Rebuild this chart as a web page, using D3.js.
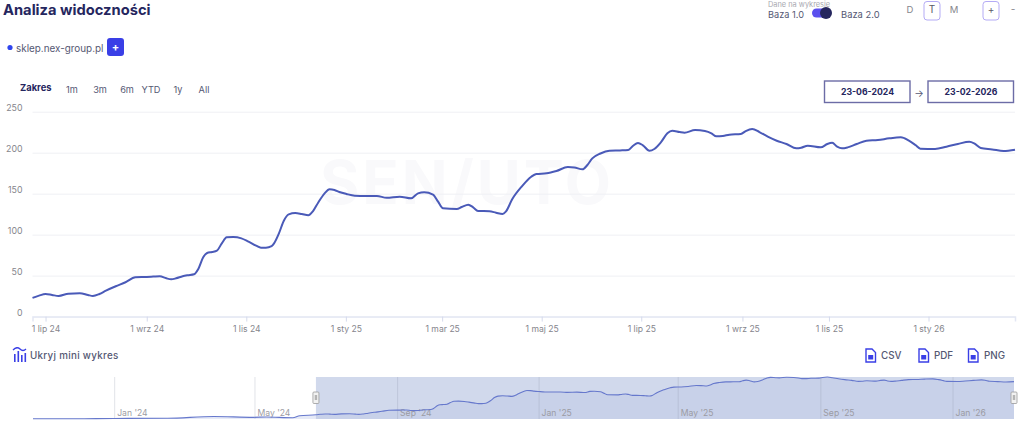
<!DOCTYPE html>
<html><head><meta charset="utf-8">
<script src="https://cdn.jsdelivr.net/npm/d3@7/dist/d3.min.js"></script>
<style>html,body{margin:0;padding:0;background:#fff}svg{display:block}text{font-family:Inter,"Open Sans",sans-serif}</style>
</head><body><svg id="c" width="1024" height="427"></svg>
<script>
// days = position on the chart's ordinal axis, counted from 23-06-2024
const days=[0,4,8,12,16,22,29,34,37,41,45,51,57,63,70,74,78,82,85,88,92,95,99,101.5,104.6,107,110,113,116,119,123,128,132,137,140,143,146.5,148,151,154,157,161,165,169,172,175,179,182,185,188,192.4,197.5,204,211,217,225,232,236.2,240,245.4,248.5,251.5,260,263,267,270,273,280,284,288,290,294,300,305.6,308.7,315,321,328,332,337,340,343,348,353.5,360,365,368,371,374,378,381,385,389,392,396.5,399.5,406,412,416,419,423,427,434,437,441,445.4,450.5,456,462,468,471,475,483,487,490,493,496,499.5,505,511,518,525,532,537,541,544,553,560,567,574,577,581,588,595,602];
const values=[22.8,25.6,27.6,26.4,25.2,28,28.5,26.4,25.2,27.6,31.7,37,41.9,48,48.4,48.8,49.2,46.7,45.5,46.7,49.2,50.4,51.6,57.7,72.4,77.6,78.9,80.5,89.4,96.7,97.2,95.5,91.9,86.6,84.1,84.1,86,89.4,101.6,117,124.8,126.4,125.2,123.6,129,139,150.4,155.3,154.5,152,149.6,147.6,147.2,147.2,145,146.3,144.3,150.4,151.6,148.8,140.2,132.1,131.3,133.7,136.6,133.3,128.9,128.5,126.8,125.2,128,143.5,159.3,170.7,174,174.8,177.6,182.5,182,179.7,185,193,199,202.4,202.8,203.3,208.5,211.8,209,202.4,204.5,212.6,223.6,226.8,225.2,224.4,227.6,226.4,223.6,220,220.4,222,222.8,226.4,228.9,225.2,219.5,214.6,210.6,205.3,206,208.5,206.5,210.6,212,207.3,205.3,206.5,210.6,214.6,215.4,217.5,218.7,214.6,209.3,204.9,204.5,207.3,210.6,213.4,211.4,205.7,204,202,203.6];
// history shown only in the mini chart
const earlyDays=[-244,-200,-174,-128,-88,-54,-43,-20,-14];
const earlyValues=[1,1.5,3,4,14,9,11,7,18];
const yTicks=[0,50,100,150,200,250];
const xTickDays=[8,70,131,192,251,312,373,435,488,549];
const xTickLabels=["1 lip 24","1 wrz 24","1 lis 24","1 sty 25","1 mar 25","1 maj 25","1 lip 25","1 wrz 25","1 lis 25","1 sty 26"];
const navTickDays=[-174,-53,70,192,312,435,549];
const navTickLabels=["Jan '24","May '24","Sep '24","Jan '25","May '25","Sep '25","Jan '26"];
const rangeLabels=["1m","3m","6m","YTD","1y","All"];
const rangeCenters=[72,100,127,151,178,204];

const navy="#25265e",ink="#555873",grey="#85858c",blue="#3a3fe6",lavender="#b4abf5";
const svg=d3.select("#c");
const T=(x,y,s,size,fill,w,a)=>svg.append("text").attr("x",x).attr("y",y).attr("font-size",size).attr("fill",fill).attr("font-weight",w||400).attr("text-anchor",a||"start").attr("dominant-baseline","central").text(s);

const x=d3.scaleLinear().domain([0,602]).range([32.5,1015]);
const y=d3.scaleLinear().domain([0,250]).range([316.6,111.7]);
const pts=days.map((d,i)=>[d,values[i]]);

// watermark
svg.append("text").attr("x",467).attr("y",204).attr("text-anchor","middle").attr("font-size",60).attr("font-weight",700).attr("letter-spacing",3).attr("fill","#f9f9fb").text("SEN/UTO");

// y axis + grid
const gy=svg.append("g").attr("transform","translate(32.5,0)").call(d3.axisLeft(y).tickValues(yTicks).tickSize(-982.5).tickPadding(10));
gy.select(".domain").remove();
gy.selectAll(".tick line").attr("stroke","#eff0f4");
gy.selectAll(".tick text").attr("font-size",8.8).attr("fill",grey).attr("dy","-0.14em").style("font-family","Inter");
// x axis
const gx=svg.append("g").attr("transform","translate(0,316.6)").call(d3.axisBottom(x).tickValues(xTickDays).tickFormat((d,i)=>xTickLabels[i]).tickSize(5).tickPadding(4));
gx.select(".domain").attr("stroke","#e3e7f4").attr("stroke-width",1.5);
gx.selectAll(".tick line").attr("stroke","#d5daec");
gx.selectAll(".tick text").attr("font-size",8.6).attr("fill",grey).style("font-family","Inter");
// main line
svg.append("path").attr("fill","none").attr("stroke","#4a5ab8").attr("stroke-width",2)
 .attr("d",d3.line().x(d=>x(d[0])).y(d=>y(d[1])).curve(d3.curveMonotoneX)(pts));

// header
T(3,9.5,"Analiza widoczności",14.7,navy,700);
svg.append("circle").attr("cx",10).attr("cy",47.5).attr("r",2.6).attr("fill","#2f45ee");
T(16,48,"sklep.nex-group.pl",9.9,ink);
svg.append("rect").attr("x",107).attr("y",38).attr("width",17).attr("height",18).attr("rx",3).attr("fill",blue);
T(115.5,46.5,"+",11,"#fff",700,"middle");
T(20,87,"Zakres",9.4,navy,700);
rangeLabels.forEach((s,i)=>T(rangeCenters[i],89,s,9.2,ink,400,"middle"));

// top-right controls
T(768,4,"Dane na wykresie",7.4,"#a8a8b0");
T(768,14,"Baza 1.0",9.2,ink);
svg.append("rect").attr("x",812).attr("y",8.5).attr("width",18).attr("height",9).attr("rx",4.5).attr("fill","#5b50ee");
svg.append("circle").attr("cx",826).attr("cy",13).attr("r",6).attr("fill",navy);
T(841,14,"Baza 2.0",9.4,ink);
T(910,9,"D",9.5,grey,400,"middle");
T(954,9,"M",9.5,grey,400,"middle");
T(1013,9,"-",10,grey,400,"middle");
[[924,"T"],[983,"+"]].forEach(([bx,s])=>{
 svg.append("rect").attr("x",bx).attr("y",1.5).attr("width",16).attr("height",18.5).attr("rx",3).attr("fill","#fff").attr("stroke",lavender).attr("stroke-width",1);
 T(bx+8,9,s,10,"#5a5a66",400,"middle");
});
[[824.5,"23-06-2024"],[928,"23-02-2026"]].forEach(([bx,s])=>{
 svg.append("rect").attr("x",bx).attr("y",81).attr("width",85.5).attr("height",21.5).attr("fill","#fff").attr("stroke","#6c6ca6").attr("stroke-width",1.4);
 T(bx+43,92,s,8.7,navy,700,"middle");
});
T(919,93,"→",10,ink,400,"middle");

// footer row
const ic=svg.append("g").attr("fill",blue);
[[14,354,8],[17.5,351,11],[21,355,7],[24.5,353,9]].forEach(([a,b,h])=>ic.append("rect").attr("x",a).attr("y",b).attr("width",1.6).attr("height",h));
svg.append("path").attr("d","M13 350Q17 346 20 349T26 349").attr("fill","none").attr("stroke",blue).attr("stroke-width",1.3);
T(30,355,"Ukryj mini wykres",9.8,ink,500).attr("letter-spacing",0.3);
[[866,"CSV",881],[919,"PDF",934],[968.5,"PNG",984]].forEach(([ix,s,tx])=>{
 svg.append("path").attr("d",`M${ix} 349h6l3.5 3.5v9.5h-9.5z`).attr("fill","#fff").attr("stroke",blue).attr("stroke-width",1.4);
 svg.append("rect").attr("x",ix+2.2).attr("y",355).attr("width",5).attr("height",4.5).attr("fill",blue);
 T(tx,355,s,9.8,ink,500);
});

// mini chart
const nx=d3.scaleLinear().domain([-244,602]).range([33,1014]);
const ny=d3.scaleLinear().domain([0,229]).range([419,377]);
const allPts=earlyDays.map((d,i)=>[d,earlyValues[i]]).concat(pts);
const sel=[nx(0),nx(602)];
svg.append("path").attr("fill","#e6eaf7")
 .attr("d",d3.area().x(d=>nx(d[0])).y0(419).y1(d=>ny(d[1])).curve(d3.curveMonotoneX)(allPts));
svg.append("rect").attr("x",sel[0]).attr("y",377).attr("width",sel[1]-sel[0]).attr("height",42).attr("fill","#b4c2e0").attr("fill-opacity",.62);
const ga=svg.append("g").attr("transform","translate(0,419)").call(d3.axisBottom(nx).tickValues(navTickDays).tickFormat((d,i)=>navTickLabels[i]).tickSize(-42));
ga.select(".domain").remove();
ga.selectAll(".tick line").attr("stroke","#8d93a8").attr("stroke-opacity",.25);
ga.selectAll(".tick text").attr("font-size",8.6).attr("fill","#9b9ba3").attr("text-anchor","start").attr("x",2.5).attr("y",-3).attr("dy",0).style("font-family","Inter");
svg.append("path").attr("fill","none").attr("stroke","#6678cc").attr("stroke-width",1.1)
 .attr("d",d3.line().x(d=>nx(d[0])).y(d=>ny(d[1])).curve(d3.curveMonotoneX)(allPts));
sel.forEach(h=>{
 svg.append("rect").attr("x",h-3).attr("y",392).attr("width",6).attr("height",11.5).attr("rx",1).attr("fill","#f2f2f2").attr("stroke","#9a9a9a").attr("stroke-width",.8);
 svg.append("rect").attr("x",h-1.2).attr("y",395).attr("width",2.4).attr("height",5).attr("fill","#b5b5b5");
});
</script></body></html>
